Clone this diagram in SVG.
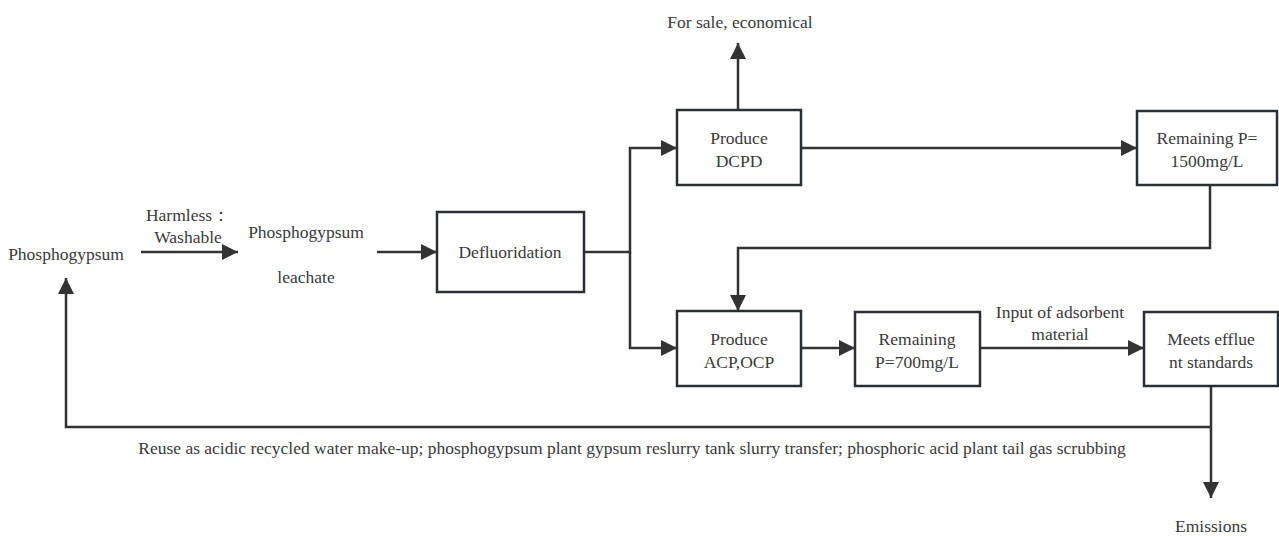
<svg xmlns="http://www.w3.org/2000/svg" width="1279" height="536" viewBox="0 0 1279 536">
<style>
.t{font-family:"Liberation Serif","Times New Roman",serif;font-size:17.5px;fill:#3a3a3a;text-anchor:middle}
.b{fill:#fff;stroke:#2b2f33;stroke-width:2.5}
.c{fill:none;stroke:#333;stroke-width:2.5}
</style>
<defs>
<marker id="ah" viewBox="0 0 10 10" refX="10" refY="5" markerWidth="7.5" markerHeight="6.4" markerUnits="strokeWidth" orient="auto">
<path d="M0,0 L10,5 L0,10 z" fill="#333"/>
</marker>
</defs>
<g id="connectors">
<path class="c" d="M141,252 H238" marker-end="url(#ah)"/>
<path class="c" d="M377,252 H437" marker-end="url(#ah)"/>
<path class="c" d="M584,252 H630 V148 H677" marker-end="url(#ah)"/>
<path class="c" d="M630,252 V348 H677" marker-end="url(#ah)"/>
<path class="c" d="M738,110 V43" marker-end="url(#ah)"/>
<path class="c" d="M801,148 H1137" marker-end="url(#ah)"/>
<path class="c" d="M1210,185 V248 H738 V311" marker-end="url(#ah)"/>
<path class="c" d="M801,348 H855" marker-end="url(#ah)"/>
<path class="c" d="M980,348 H1144" marker-end="url(#ah)"/>
<path class="c" d="M1211,386 V498" marker-end="url(#ah)"/>
<path class="c" d="M1211,427 H66 V278" marker-end="url(#ah)"/>
<text class="t" x="188" y="221">Harmless：</text>
<text class="t" x="188" y="243">Washable</text>
<text class="t" x="1060" y="318">Input of adsorbent</text>
<text class="t" x="1060" y="340">material</text>
<text class="t" x="632" y="454">Reuse as acidic recycled water make-up; phosphogypsum plant gypsum reslurry tank slurry transfer; phosphoric acid plant tail gas scrubbing</text>
</g>
<g id="n-phosphogypsum"><text class="t" x="66" y="260">Phosphogypsum</text></g>
<g id="n-leachate"><text class="t" x="306" y="238">Phosphogypsum</text><text class="t" x="306" y="283">leachate</text></g>
<g id="n-defluoridation"><rect class="b" x="437" y="212" width="147" height="80"/><text class="t" x="510" y="258">Defluoridation</text></g>
<g id="n-dcpd"><rect class="b" x="677" y="110" width="124" height="75"/><text class="t" x="739" y="144">Produce</text><text class="t" x="739" y="167">DCPD</text></g>
<g id="n-sale"><text class="t" x="740" y="28">For sale, economical</text></g>
<g id="n-p1500"><rect class="b" x="1137" y="111" width="140" height="74"/><text class="t" x="1207" y="144">Remaining P=</text><text class="t" x="1207" y="167">1500mg/L</text></g>
<g id="n-acp"><rect class="b" x="677" y="311" width="124" height="75"/><text class="t" x="739" y="345">Produce</text><text class="t" x="739" y="368">ACP,OCP</text></g>
<g id="n-p700"><rect class="b" x="855" y="312" width="125" height="74"/><text class="t" x="917" y="345">Remaining</text><text class="t" x="917" y="368">P=700mg/L</text></g>
<g id="n-meets"><rect class="b" x="1144" y="312" width="134" height="74"/><text class="t" x="1211" y="345">Meets efflue</text><text class="t" x="1211" y="368">nt standards</text></g>
<g id="n-emissions"><text class="t" x="1211" y="532">Emissions</text></g>
</svg>
